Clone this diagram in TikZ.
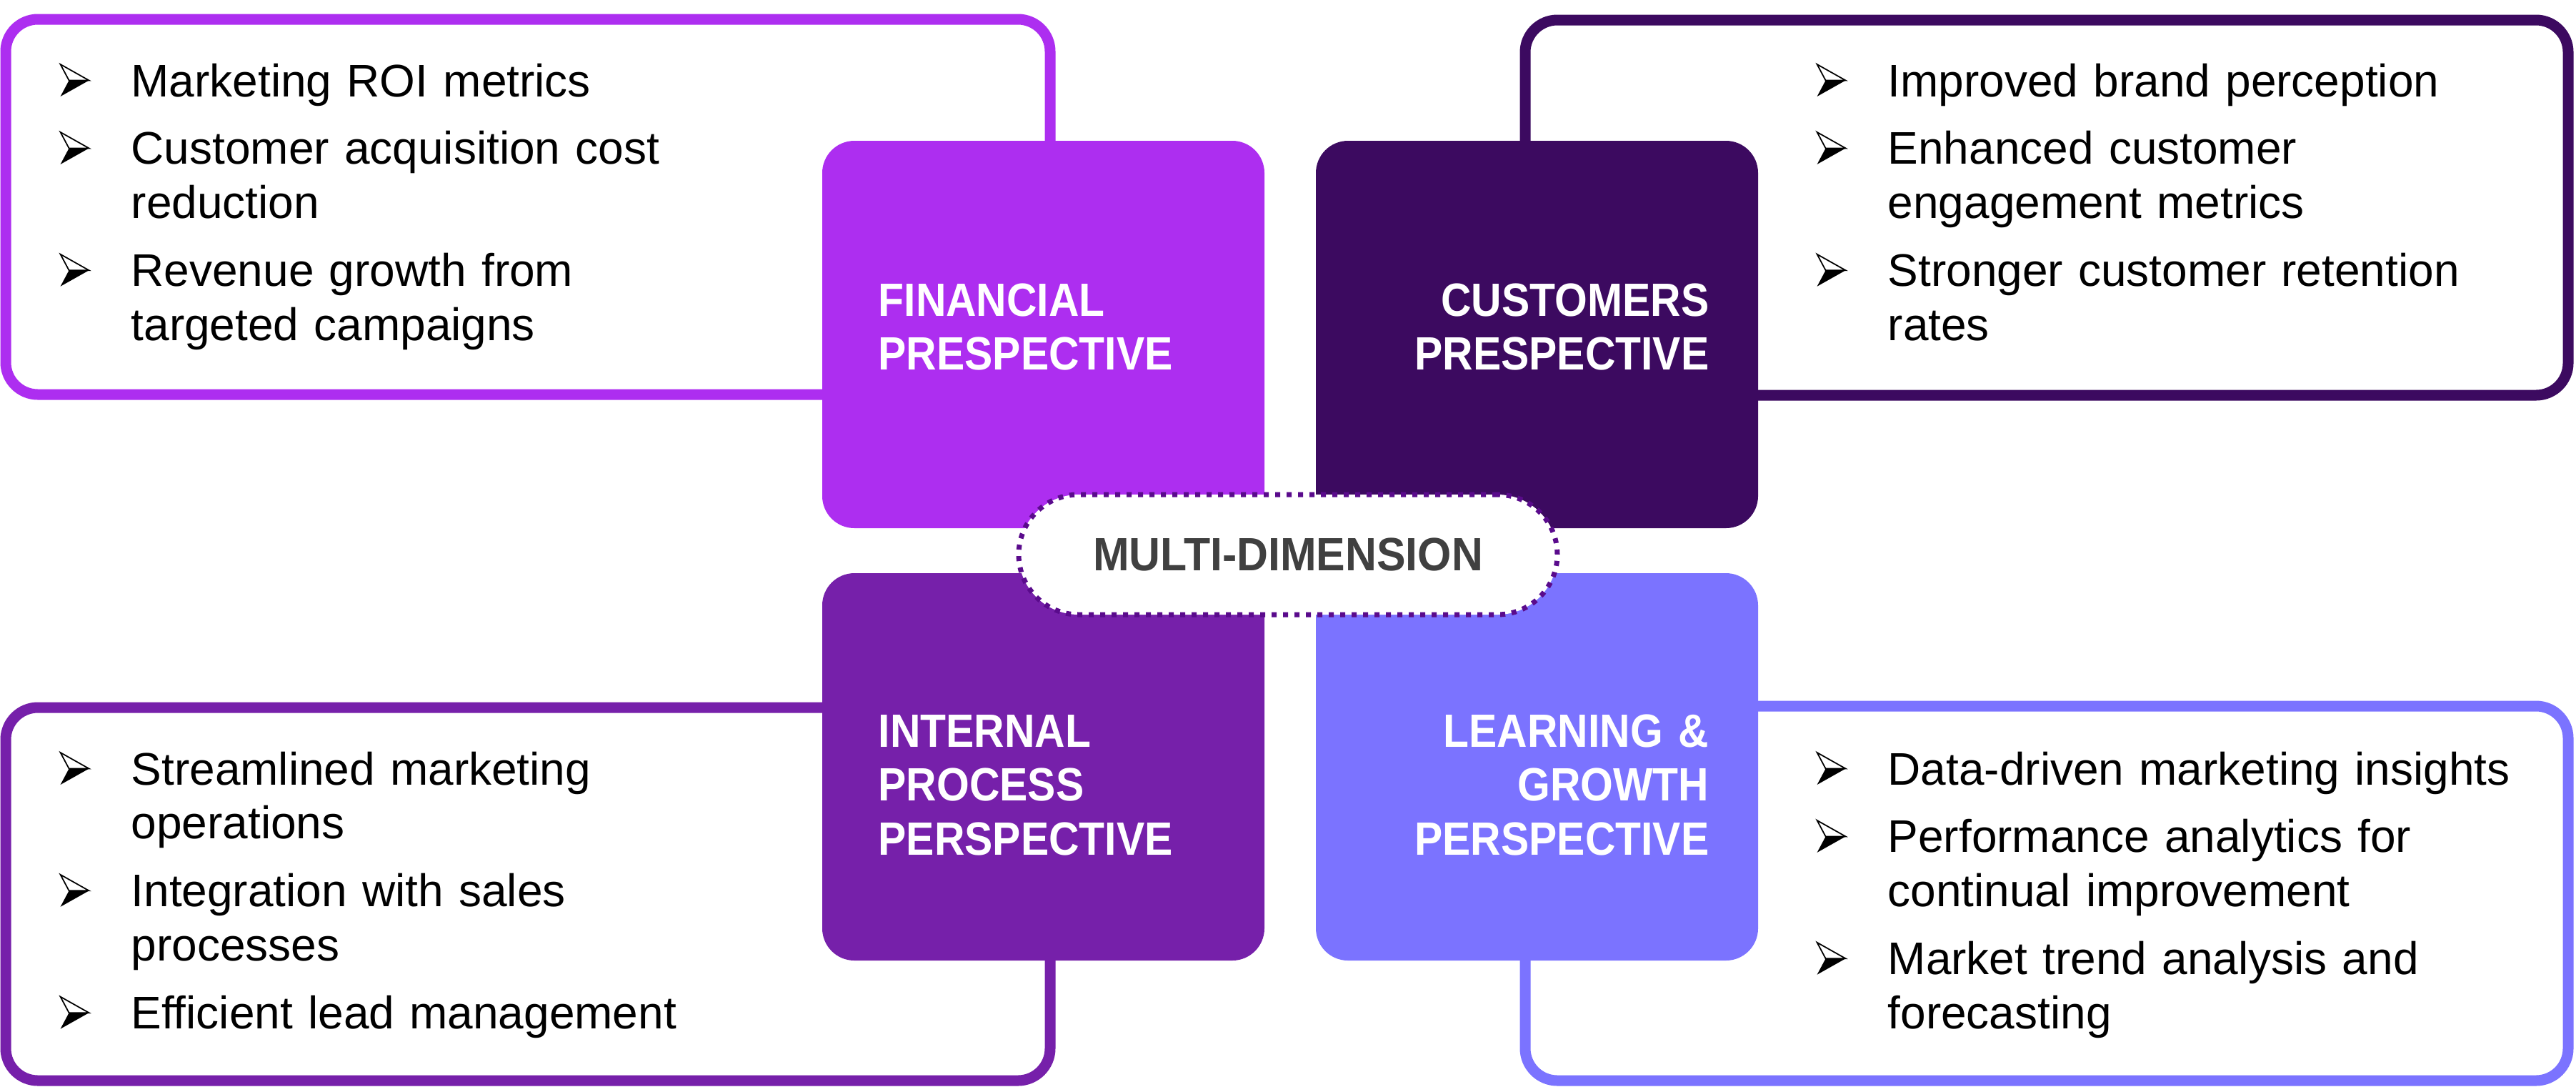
\documentclass[tikz,border=0pt]{standalone}
\usepackage{fontspec}
\setmainfont{Liberation Sans}
\newfontfamily\headfont[FakeStretch=0.9]{Liberation Sans}
\newfontfamily\pillfont[FakeStretch=0.93]{Liberation Sans}

\definecolor{finpurple}{HTML}{AD2EF0}
\definecolor{cuspurple}{HTML}{3C0A60}
\definecolor{intpurple}{HTML}{7620AA}
\definecolor{lrnpurple}{HTML}{7B73FF}
\definecolor{pillline}{HTML}{5A0B8C}
\definecolor{pilltext}{HTML}{404040}

% the 3-d arrow head used as bullet
\newcommand{\arrowbullet}{\tikz[baseline=0pt, x=1cm, y=1cm]{%
  \fill[black] (0,0) -- (0.40,0.225) -- (0.12,0.225) -- cycle;
  \draw[black, fill=white, line width=0.5pt, line join=miter] (0,0.45) -- (0.40,0.225) -- (0.12,0.225) -- cycle;}}
% one point of a list, with a hanging indent
\newcommand{\pointitem}[1]{\hangindent=1cm\hangafter=1\noindent\makebox[1cm][l]{\arrowbullet}#1\par}

\begin{document}
\begin{tikzpicture}[y=-1cm,
  frame/.style={line width=0.15cm, rounded corners=0.45cm},
  quad/.style={fill=#1, rounded corners=0.45cm, minimum width=6.19cm, minimum height=5.42cm, inner sep=0pt},
  head/.style={text=white, font=\headfont\bfseries\fontsize{18.6}{21.5}\selectfont, text width=5cm, inner sep=0pt},
  points/.style={font=\fontsize{18.2}{21.6}\selectfont, text width=12cm, align=left, inner sep=0pt, anchor=base west},
  pill/.style={fill=white, draw=pillline, line width=0.07cm, dash pattern=on 0.07cm off 0.09cm,
    rounded corners=0.84cm, minimum width=7.54cm, minimum height=1.68cm, inner sep=0pt,
    text=pilltext, font=\pillfont\bfseries\fontsize{18.6}{21.5}\selectfont}]
  \useasboundingbox (0,0) rectangle (36.06,15.20);

  % frames behind the four blocks
  \draw[frame, draw=finpurple] (0.08,0.27) rectangle (14.70,5.52);
  \draw[frame, draw=cuspurple] (21.35,0.28) rectangle (35.95,5.53);
  \draw[frame, draw=intpurple] (0.08,9.90) rectangle (14.70,15.12);
  \draw[frame, draw=lrnpurple] (21.35,9.88) rectangle (35.95,15.12);

  % the four blocks
  \node[quad=finpurple] (fin) at (14.605,4.68) {};
  \node[quad=cuspurple] (cus) at (21.515,4.68) {};
  \node[quad=intpurple] (int) at (14.605,10.73) {};
  \node[quad=lrnpurple] (lrn) at (21.515,10.73) {};

  \node[head, align=left, anchor=base west] (finhead) at (12.29,4.42) {FINANCIAL\\PRESPECTIVE};
  \node[head, align=right, anchor=base east] (cushead) at (23.93,4.42) {CUSTOMERS\\PRESPECTIVE};
  \node[head, align=left, anchor=base west] (inthead) at (12.29,10.45) {INTERNAL\\PROCESS\\PERSPECTIVE};
  \node[head, align=right, anchor=base east] (lrnhead) at (23.93,10.45) {LEARNING \&\\GROWTH\\PERSPECTIVE};

  \node[pill] (multi) at (18.03,7.76) {MULTI-DIMENSION};

  % lists
  \node[points] (finlist) at (0.83,1.35) {\setlength{\parskip}{0.19cm}%
    \pointitem{Marketing ROI metrics}
    \pointitem{Customer acquisition cost\newline reduction}
    \pointitem{Revenue growth from\newline targeted campaigns}};
  \node[points] (cuslist) at (25.42,1.35) {\setlength{\parskip}{0.19cm}%
    \pointitem{Improved brand perception}
    \pointitem{Enhanced customer\newline engagement metrics}
    \pointitem{Stronger customer retention\newline rates}};
  \node[points] (intlist) at (0.83,10.98) {\setlength{\parskip}{0.19cm}%
    \pointitem{Streamlined marketing\newline operations}
    \pointitem{Integration with sales\newline processes}
    \pointitem{Efficient lead management}};
  \node[points] (lrnlist) at (25.42,10.98) {\setlength{\parskip}{0.19cm}%
    \pointitem{Data-driven marketing insights}
    \pointitem{Performance analytics for\newline continual improvement}
    \pointitem{Market trend analysis and\newline forecasting}};
\end{tikzpicture}
\end{document}
